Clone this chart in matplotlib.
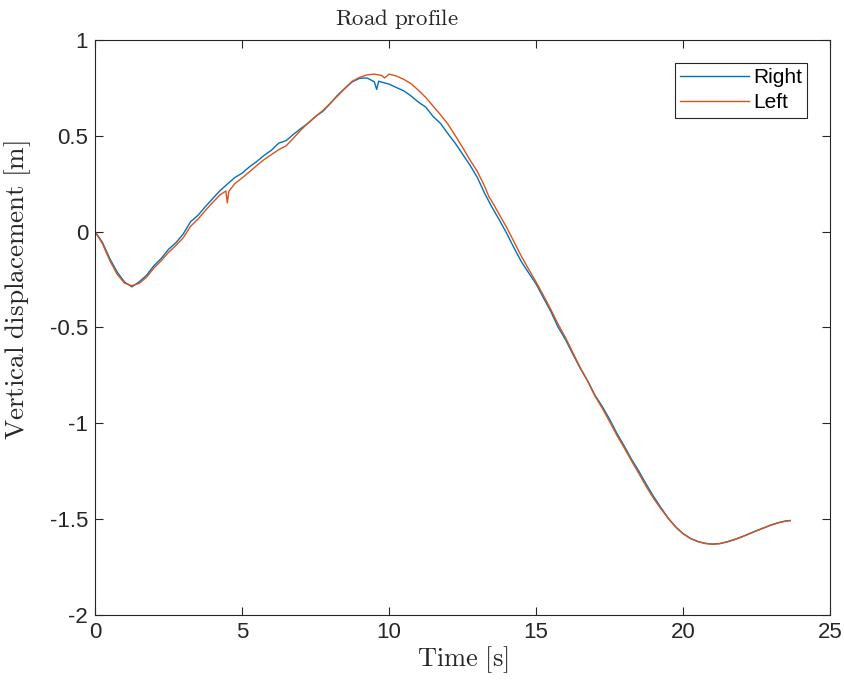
import matplotlib
matplotlib.use("Agg")
import matplotlib.pyplot as plt

# ---- data ----
t_right = [0.00, 0.25, 0.50, 0.75, 1.00, 1.25, 1.50, 1.75, 2.00, 2.25, 2.50, 2.75,
           3.00, 3.25, 3.50, 3.75, 4.00, 4.25, 4.50, 4.75, 5.00, 5.25, 5.50, 5.75,
           6.00, 6.25, 6.50, 6.75, 7.00, 7.25, 7.50, 7.75, 8.00, 8.25, 8.50, 8.75,
           9.00, 9.25, 9.50, 9.58, 9.65, 9.75, 10.00, 10.25, 10.50, 10.75, 11.00,
           11.25, 11.50, 11.75, 12.00, 12.25, 12.50, 12.75, 13.00, 13.25, 13.50,
           13.75, 14.00, 14.25, 14.50, 14.75, 15.00, 15.25, 15.50, 15.75, 16.00,
           16.25, 16.50, 16.75, 17.00, 17.25, 17.50, 17.75, 18.00, 18.25, 18.50,
           18.75, 19.00, 19.25, 19.50, 19.75, 20.00, 20.25, 20.50, 20.75, 21.00,
           21.25, 21.50, 21.75, 22.00, 22.25, 22.50, 22.75, 23.00, 23.25, 23.50, 23.65]
y_right = [0.000, -0.055, -0.140, -0.210, -0.262, -0.288, -0.262, -0.228, -0.178, -0.140,
           -0.092, -0.058, -0.012, 0.052, 0.085, 0.130, 0.172, 0.214, 0.248, 0.282,
           0.305, 0.338, 0.366, 0.398, 0.425, 0.462, 0.475, 0.508, 0.538, 0.566,
           0.601, 0.628, 0.668, 0.712, 0.748, 0.782, 0.800, 0.802, 0.782, 0.742,
           0.785, 0.780, 0.770, 0.752, 0.735, 0.708, 0.676, 0.650, 0.601, 0.565,
           0.512, 0.462, 0.405, 0.348, 0.284, 0.201, 0.128, 0.062, -0.008, -0.084,
           -0.156, -0.215, -0.272, -0.345, -0.415, -0.498, -0.562, -0.638, -0.712,
           -0.776, -0.852, -0.911, -0.978, -1.052, -1.118, -1.188, -1.250, -1.318,
           -1.382, -1.440, -1.495, -1.540, -1.575, -1.600, -1.616, -1.626, -1.630,
           -1.627, -1.618, -1.606, -1.592, -1.576, -1.560, -1.545, -1.530, -1.518,
           -1.509, -1.507]

t_left = [0.00, 0.25, 0.50, 0.75, 1.00, 1.25, 1.50, 1.75, 2.00, 2.25, 2.50, 2.75,
          3.00, 3.25, 3.50, 3.75, 4.00, 4.25, 4.45, 4.50, 4.55, 4.75, 5.00, 5.25,
          5.50, 5.75, 6.00, 6.25, 6.50, 6.75, 7.00, 7.25, 7.50, 7.75, 8.00, 8.25,
          8.50, 8.75, 9.00, 9.25, 9.50, 9.75, 9.85, 10.00, 10.25, 10.50, 10.75,
          11.00, 11.25, 11.50, 11.75, 12.00, 12.25, 12.50, 12.75, 13.00, 13.25,
          13.40, 13.50, 13.75, 14.00, 14.25, 14.50, 14.75, 15.00, 15.25, 15.50,
          15.75, 16.00, 16.25, 16.50, 16.75, 17.00, 17.25, 17.50, 17.75, 18.00,
          18.25, 18.50, 18.75, 19.00, 19.25, 19.50, 19.75, 20.00, 20.25, 20.50,
          20.75, 21.00, 21.25, 21.50, 21.75, 22.00, 22.25, 22.50, 22.75, 23.00,
          23.25, 23.50, 23.65]
y_left = [0.000, -0.062, -0.150, -0.222, -0.268, -0.282, -0.270, -0.238, -0.190, -0.152,
          -0.108, -0.072, -0.032, 0.028, 0.065, 0.110, 0.152, 0.192, 0.212, 0.150,
          0.210, 0.250, 0.280, 0.312, 0.345, 0.376, 0.402, 0.428, 0.448, 0.488,
          0.530, 0.568, 0.600, 0.632, 0.670, 0.708, 0.748, 0.785, 0.805, 0.818,
          0.822, 0.815, 0.802, 0.822, 0.812, 0.795, 0.772, 0.738, 0.700, 0.655,
          0.610, 0.562, 0.502, 0.440, 0.375, 0.315, 0.238, 0.182, 0.158, 0.090,
          0.022, -0.052, -0.128, -0.196, -0.262, -0.332, -0.405, -0.482, -0.552,
          -0.630, -0.708, -0.778, -0.856, -0.920, -0.990, -1.062, -1.128, -1.196,
          -1.262, -1.330, -1.392, -1.446, -1.497, -1.541, -1.576, -1.601, -1.617,
          -1.627, -1.631, -1.628, -1.619, -1.607, -1.593, -1.577, -1.561, -1.546,
          -1.531, -1.519, -1.510, -1.508]

series_names = ["Right", "Left"]
x_ticks = [0, 5, 10, 15, 20, 25]
y_ticks = [-2, -1.5, -1, -0.5, 0, 0.5, 1]
y_tick_labels = ["-2", "-1.5", "-1", "-0.5", "0", "0.5", "1"]

plt.rcParams["mathtext.fontset"] = "cm"
plt.rcParams["font.family"] = ["Liberation Sans", "DejaVu Sans"]

fig = plt.figure(figsize=(8.44, 6.85), dpi=100)
ax = fig.add_axes([0.1126, 0.1022, 0.8708, 0.8394])

ax.plot(t_right, y_right, color="#0072BD", lw=1.0, label=series_names[0])
ax.plot(t_left, y_left, color="#D95319", lw=1.0, label=series_names[1])

ax.set_xlim(0, 25)
ax.set_ylim(-2, 1)
ax.set_xticks(x_ticks)
ax.set_xticklabels([str(v) for v in x_ticks])
ax.set_yticks(y_ticks)
ax.set_yticklabels(y_tick_labels)
ax.tick_params(direction="in", length=6, width=0.8, top=True, right=True,
               labelsize=16, colors="#262626", pad=5)
for s in ax.spines.values():
    s.set_linewidth(0.8)
    s.set_color("#262626")

ttl = ax.set_title(r"$\mathrm{Road\ profile}$", fontsize=16.5, color="#262626", pad=11)
ttl.set_x(0.41)
ax.set_xlabel(r"$\mathrm{Time\ [s]}$", fontsize=19, color="#262626", labelpad=1)
ax.set_ylabel(r"$\mathrm{Vertical\ displacement\ [m]}$", fontsize=19.5, color="#262626")
ax.yaxis.set_label_coords(-0.084, 0.565)

leg = ax.legend(loc="upper right", fontsize=15, handlelength=3.3, handletextpad=0.2,
                borderpad=0.25, labelspacing=0.3, fancybox=False, framealpha=1,
                edgecolor="#262626", borderaxespad=1.1)
leg.get_frame().set_linewidth(0.8)

fig.savefig("out.png", dpi=100)
